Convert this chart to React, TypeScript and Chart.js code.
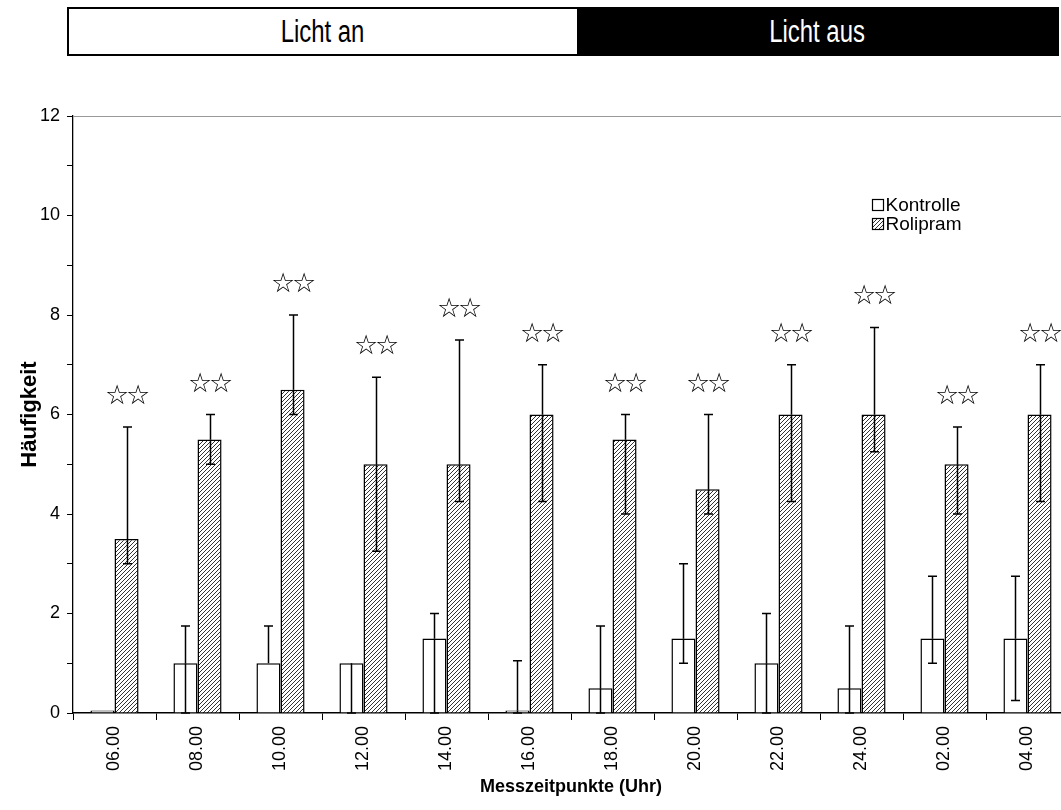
import React, { useEffect, useRef } from "react";
import { Chart, registerables } from "chart.js";

Chart.register(...registerables);

// ---- data ----
const categories = ["06.00", "08.00", "10.00", "12.00", "14.00", "16.00", "18.00", "20.00", "22.00", "24.00", "02.00", "04.00"];
const kontrolle = [0.05, 1, 1, 1, 1.5, 0.05, 0.5, 1.5, 1, 0.5, 1.5, 1.5];
const kontrolleUpper = [0.05, 1.75, 1.75, 1, 2, 1.05, 1.75, 3, 2, 1.75, 2.75, 2.75];
const kontrolleLower = [0.05, 0, 1, 0, 0, 0, 0, 1, 0, 0, 1, 0.25];
const rolipram = [3.5, 5.5, 6.5, 5, 5, 6, 5.5, 4.5, 6, 6, 5, 6];
const roliUpper = [5.75, 6, 8, 6.75, 7.5, 7, 6, 6, 7, 7.75, 5.75, 7];
const roliLower = [3, 5, 6, 3.25, 4.25, 4.25, 4, 4, 4.25, 5.25, 4, 4.25];
const significance = ["☆☆", "☆☆", "☆☆", "☆☆", "☆☆", "☆☆", "☆☆", "☆☆", "☆☆", "☆☆", "☆☆", "☆☆"];
const seriesNames = ["Kontrolle", "Rolipram"];
const yMin = 0;
const yMax = 12;
const yLabelStep = 2;
const bannerLabels = ["Licht an", "Licht aus"];
const xTitle = "Messzeitpunkte (Uhr)";
const yTitle = "Häufigkeit";

const FONT = '"Liberation Sans", Arial, Helvetica, sans-serif';

function makeHatch(): CanvasPattern | string {
  const c = document.createElement("canvas");
  c.width = 4;
  c.height = 4;
  const g = c.getContext("2d");
  if (!g) return "#888";
  g.fillStyle = "#ffffff";
  g.fillRect(0, 0, 4, 4);
  g.strokeStyle = "#333333";
  g.lineWidth = 1.0;
  g.beginPath();
  g.moveTo(-1, 5);
  g.lineTo(5, -1);
  g.moveTo(-1, 1);
  g.lineTo(1, -1);
  g.moveTo(3, 5);
  g.lineTo(5, 3);
  g.stroke();
  const p = g.createPattern(c, "repeat");
  return p || "#888";
}

const extrasPlugin = {
  id: "extras",
  afterDatasetsDraw(chart: any) {
    const ctx = chart.ctx;
    const ys = chart.scales.y;
    const area = chart.chartArea;
    // top border of plot area
    ctx.save();
    ctx.strokeStyle = "#9a9a9a";
    ctx.lineWidth = 1;
    ctx.beginPath();
    ctx.moveTo(area.left, Math.round(area.top) + 0.5);
    ctx.lineTo(area.right, Math.round(area.top) + 0.5);
    ctx.stroke();
    ctx.restore();

    chart.data.datasets.forEach((ds: any, di: number) => {
      const meta = chart.getDatasetMeta(di);
      meta.data.forEach((bar: any, i: number) => {
        const x = Math.round(bar.x) + 0.5;
        const v = ds.data[i];
        const yv = ys.getPixelForValue(v);
        const up = ds.errUpper[i];
        const lo = ds.errLower[i];
        ctx.save();
        ctx.strokeStyle = "#000";
        ctx.lineWidth = 1.5;
        const cap = 4.5;
        if (up > v) {
          const yu = ys.getPixelForValue(up);
          ctx.beginPath();
          ctx.moveTo(x, yv);
          ctx.lineTo(x, yu);
          ctx.moveTo(x - cap, yu);
          ctx.lineTo(x + cap, yu);
          ctx.stroke();
        }
        if (lo < v) {
          const yl = ys.getPixelForValue(lo);
          ctx.beginPath();
          ctx.moveTo(x, yv);
          ctx.lineTo(x, yl);
          ctx.moveTo(x - cap, yl);
          ctx.lineTo(x + cap, yl);
          ctx.stroke();
        }
        if (ds.marks) {
          const yu = ys.getPixelForValue(up);
          const chars = Array.from(String(ds.marks[i]));
          const step = 21;
          const start = bar.x + 1 - ((chars.length - 1) * step) / 2;
          ctx.fillStyle = "#000";
          ctx.font = '27px "DejaVu Sans", sans-serif';
          ctx.textAlign = "center";
          ctx.textBaseline = "middle";
          chars.forEach((ch, k) => ctx.fillText(ch, start + k * step, yu - 30));
        }
        ctx.restore();
      });
    });

    // legend
    ctx.save();
    ctx.font = `19px ${FONT}`;
    ctx.textBaseline = "middle";
    ctx.textAlign = "left";
    const lx = 872.5;
    const ly = [199.5, 218.5];
    chart.data.datasets.forEach((ds: any, di: number) => {
      ctx.fillStyle = ds.backgroundColor;
      ctx.fillRect(lx, ly[di], 11, 11);
      ctx.strokeStyle = "#000";
      ctx.lineWidth = 1.2;
      ctx.strokeRect(lx, ly[di], 11, 11);
      ctx.fillStyle = "#000";
      ctx.fillText(ds.label, lx + 13, ly[di] + 6.5);
    });
    ctx.restore();
  },
};

export default function App() {
  const ref = useRef<HTMLCanvasElement | null>(null);

  useEffect(() => {
    const canvas = ref.current;
    if (!canvas) return;
    const hatch = makeHatch();
    const chart = new Chart(canvas, {
      type: "bar",
      data: {
        labels: categories,
        datasets: [
          {
            label: seriesNames[0],
            data: kontrolle,
            backgroundColor: "#ffffff",
            borderColor: "#000000",
            borderWidth: 1.5,
            errUpper: kontrolleUpper,
            errLower: kontrolleLower,
          } as any,
          {
            label: seriesNames[1],
            data: rolipram,
            backgroundColor: hatch,
            borderColor: "#000000",
            borderWidth: 1.5,
            errUpper: roliUpper,
            errLower: roliLower,
            marks: significance,
          } as any,
        ],
      },
      options: {
        animation: false,
        responsive: false,
        maintainAspectRatio: false,
        devicePixelRatio: 1,
        layout: { padding: { top: 116, left: 0, right: 11, bottom: 0 } },
        plugins: { legend: { display: false }, tooltip: { enabled: false } },
        datasets: { bar: { categoryPercentage: 0.58, barPercentage: 1.0 } },
        scales: {
          x: {
            type: "category",
            grid: { offset: true, drawOnChartArea: false, drawTicks: true, tickLength: 7, color: "#000" },
            border: { display: true, color: "#000", width: 1.5 },
            ticks: {
              autoSkip: false,
              maxRotation: 90,
              minRotation: 90,
              padding: 6,
              color: "#000",
              font: { family: FONT, size: 18 },
            },
            title: {
              display: true,
              text: xTitle,
              color: "#000",
              font: { family: FONT, size: 18, weight: "bold" },
              padding: { top: 0, bottom: 12 },
            },
            afterFit: (s: any) => {
              s.height = 97;
              s.paddingLeft = 0;
              s.paddingRight = 0;
            },
          },
          y: {
            min: yMin,
            max: yMax,
            grid: { drawOnChartArea: false, drawTicks: true, tickLength: 6, color: "#000" },
            border: { display: true, color: "#000", width: 1.3 },
            ticks: {
              stepSize: 1,
              padding: 7,
              color: "#000",
              font: { family: FONT, size: 18 },
              callback: (v: any) => (Number(v) % yLabelStep === 0 ? String(v) : ""),
            },
            title: {
              display: true,
              text: yTitle,
              color: "#000",
              font: { family: FONT, size: 22, weight: "bold" },
              padding: { top: 17, bottom: 0 },
            },
            afterFit: (s: any) => {
              s.width = 73;
              s.paddingTop = 0;
              s.paddingBottom = 0;
            },
          },
        },
      },
      plugins: [extrasPlugin],
    } as any);
    return () => chart.destroy();
  }, []);

  const bannerText: React.CSSProperties = {
    display: "inline-block",
    transform: "scale(0.92, 1.2)",
  };

  return (
    <div
      style={{
        position: "fixed",
        left: 0,
        top: 0,
        width: 1061,
        height: 810,
        overflow: "hidden",
        background: "#ffffff",
      }}
    >
      <div
        style={{
          position: "absolute",
          left: 67,
          top: 7,
          width: 992,
          height: 49,
          boxSizing: "border-box",
          border: "2px solid #000",
          display: "flex",
          fontFamily: FONT,
          fontSize: 26,
        }}
      >
        <div
          style={{
            width: 508,
            background: "#fff",
            color: "#000",
            display: "flex",
            alignItems: "center",
            justifyContent: "center",
          }}
        >
          <span style={bannerText}>{bannerLabels[0]}</span>
        </div>
        <div
          style={{
            flex: 1,
            background: "#000",
            color: "#fff",
            display: "flex",
            alignItems: "center",
            justifyContent: "center",
          }}
        >
          <span style={bannerText}>{bannerLabels[1]}</span>
        </div>
      </div>
      <canvas
        ref={ref}
        width={1080}
        height={810}
        style={{ position: "absolute", left: 0, top: 0, width: 1080, height: 810 }}
      />
    </div>
  );
}
